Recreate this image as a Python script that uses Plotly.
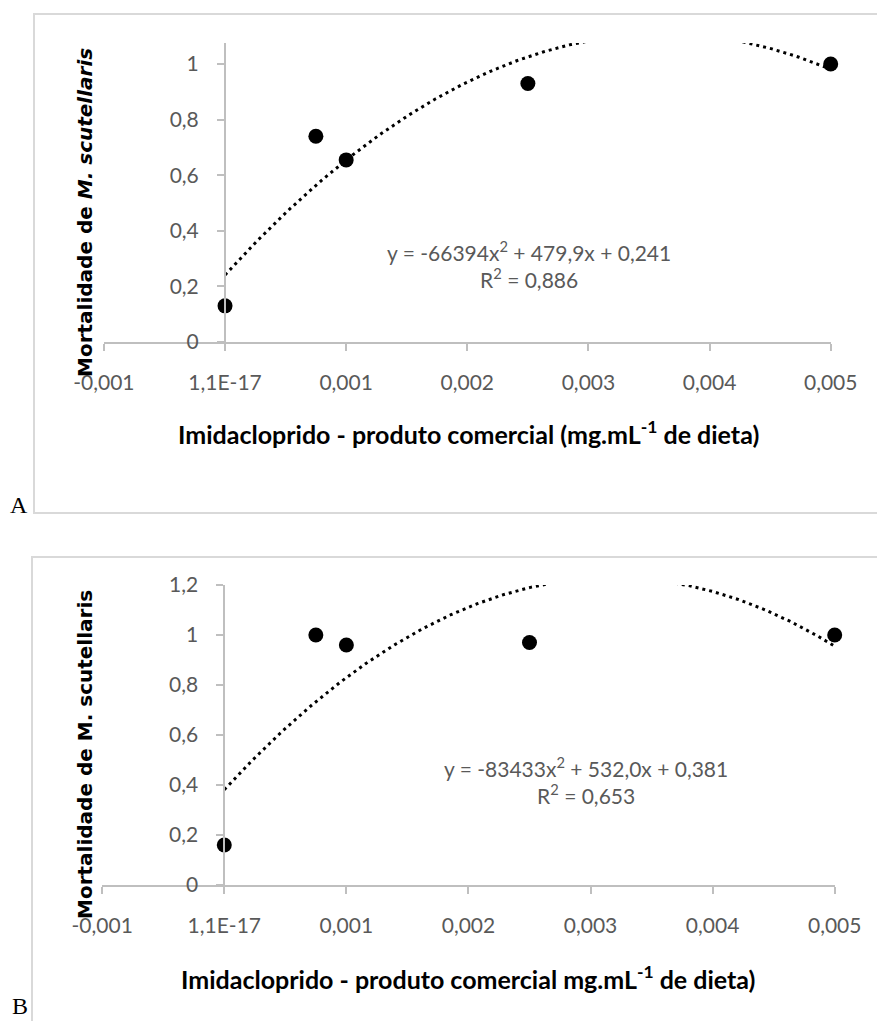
import numpy as np
import plotly.graph_objects as go

W, H = 877, 1021


def px(v):
    return v / W


def py(v):
    return 1 - v / H


# ---- data ----
concentration = [0.0, 0.00075, 0.001, 0.0025, 0.005]
mortality_a = [0.13, 0.74, 0.655, 0.93, 1.0]
mortality_b = [0.16, 1.0, 0.96, 0.97, 1.0]
trend_coef_a = [-66394, 479.9, 0.241]
trend_coef_b = [-83433, 532.0, 0.381]
equation_a = "y = -66394x<sup>2</sup> + 479,9x + 0,241<br>R<sup>2</sup> = 0,886"
equation_b = "y = -83433x<sup>2</sup> + 532,0x + 0,381<br>R<sup>2</sup> = 0,653"
x_tickvals = [-0.001, 0.0, 0.001, 0.002, 0.003, 0.004, 0.005]
x_ticktext = ["-0,001", "1,1E-17", "0,001", "0,002", "0,003", "0,004", "0,005"]
y_tickvals_a = [0, 0.2, 0.4, 0.6, 0.8, 1.0]
y_ticktext_a = ["0", "0,2", "0,4", "0,6", "0,8", "1"]
y_tickvals_b = [0, 0.2, 0.4, 0.6, 0.8, 1.0, 1.2]
y_ticktext_b = ["0", "0,2", "0,4", "0,6", "0,8", "1", "1,2"]
x_title_a = "<b>Imidacloprido - produto comercial (mg.mL<sup>-1</sup> de dieta)</b>"
x_title_b = "<b>Imidacloprido - produto comercial mg.mL<sup>-1</sup> de dieta)</b>"
y_title_a = "<b>Mortalidade de <i>M. scutellaris</i></b>"
y_title_b = "<b>Mortalidade de M. scutellaris</b>"

TICK_FONT = dict(family="Lato", size=21, color="#595959")
AXIS_COLOR = "#BFBFBF"

fig = go.Figure()

trend_x = np.linspace(0, max(concentration), 300)

for i, (mort, coef) in enumerate([(mortality_a, trend_coef_a), (mortality_b, trend_coef_b)]):
    xa = "x" if i == 0 else "x2"
    ya = "y" if i == 0 else "y2"
    fig.add_trace(go.Scatter(
        x=concentration, y=mort, mode="markers", xaxis=xa, yaxis=ya,
        marker=dict(size=15, color="black"), cliponaxis=False, showlegend=False,
        hoverinfo="skip"))
    fig.add_trace(go.Scatter(
        x=trend_x, y=np.polyval(coef, trend_x), mode="lines", xaxis=xa, yaxis=ya,
        line=dict(color="black", width=3, dash="3px,4px"), showlegend=False,
        hoverinfo="skip"))

common_x = dict(
    range=[-0.001, 0.005], tickvals=x_tickvals, ticktext=x_ticktext,
    showline=True, linecolor=AXIS_COLOR, linewidth=2, ticks="outside",
    ticklen=7, tickwidth=2, tickcolor=AXIS_COLOR, showgrid=False,
    zeroline=False, tickfont=TICK_FONT, ticklabelstandoff=14, fixedrange=True,
    automargin=False)
common_y = dict(
    showline=True, linecolor=AXIS_COLOR, linewidth=2, ticks="outside",
    ticklen=7, tickwidth=2, tickcolor=AXIS_COLOR, showgrid=False,
    zeroline=False, tickfont=TICK_FONT, ticklabelstandoff=14, fixedrange=True,
    anchor="free", automargin=False)

fig.update_layout(
    width=W, height=H, margin=dict(l=0, r=0, t=0, b=0, autoexpand=False),
    paper_bgcolor="white", plot_bgcolor="rgba(0,0,0,0)",
    xaxis=dict(domain=[px(103.9), px(830.7)], anchor="y", **common_x),
    yaxis=dict(domain=[py(342), py(43)], range=[0, 1.0755],
               tickvals=y_tickvals_a, ticktext=y_ticktext_a,
               position=px(225), **common_y),
    xaxis2=dict(domain=[px(102.2), px(834.7)], anchor="y2", **common_x),
    yaxis2=dict(domain=[py(885), py(585)], range=[0, 1.2],
                tickvals=y_tickvals_b, ticktext=y_ticktext_b,
                position=px(224.3), **common_y),
)

FRAME = "#D9D9D9"
shapes = [
    dict(type="rect", xref="paper", yref="paper", x0=px(34), x1=px(890),
         y0=py(513), y1=py(14), line=dict(color=FRAME, width=2), layer="below"),
    dict(type="rect", xref="paper", yref="paper", x0=px(32), x1=px(890),
         y0=py(1040), y1=py(557), line=dict(color=FRAME, width=2), layer="below"),
]
fig.update_layout(shapes=shapes)

ann = []
# panel letters
ann.append(dict(text="A", x=px(19), y=py(505), xref="paper", yref="paper",
                showarrow=False, xanchor="center", yanchor="middle",
                font=dict(family="Liberation Serif", size=24, color="black")))
ann.append(dict(text="B", x=px(20), y=py(1006), xref="paper", yref="paper",
                showarrow=False, xanchor="center", yanchor="middle",
                font=dict(family="Liberation Serif", size=24, color="black")))
# y titles
for txt, cy in [(y_title_a, 213), (y_title_b, 755)]:
    ann.append(dict(text=txt, x=px(85), y=py(cy), xref="paper", yref="paper",
                    showarrow=False, textangle=-90, xanchor="center", yanchor="middle",
                    font=dict(family="DejaVu Sans", size=20, color="black")))
# x titles
for txt, cy in [(x_title_a, 433), (x_title_b, 977)]:
    ann.append(dict(text=txt, x=px(468), y=py(cy), xref="paper", yref="paper",
                    showarrow=False, xanchor="center", yanchor="middle",
                    font=dict(family="Lato", size=25, color="black")))
# equations
ann.append(dict(text=equation_a, x=px(529), y=py(265), xref="paper", yref="paper",
                showarrow=False, xanchor="center", yanchor="middle", align="center",
                font=dict(family="Lato", size=21, color="#595959")))
ann.append(dict(text=equation_b, x=px(586), y=py(780), xref="paper", yref="paper",
                showarrow=False, xanchor="center", yanchor="middle", align="center",
                font=dict(family="Lato", size=21, color="#595959")))
fig.update_layout(annotations=ann)

fig.write_html("out.html", config={"displayModeBar": False, "staticPlot": True},
               post_script="document.body.style.margin='0px';")
